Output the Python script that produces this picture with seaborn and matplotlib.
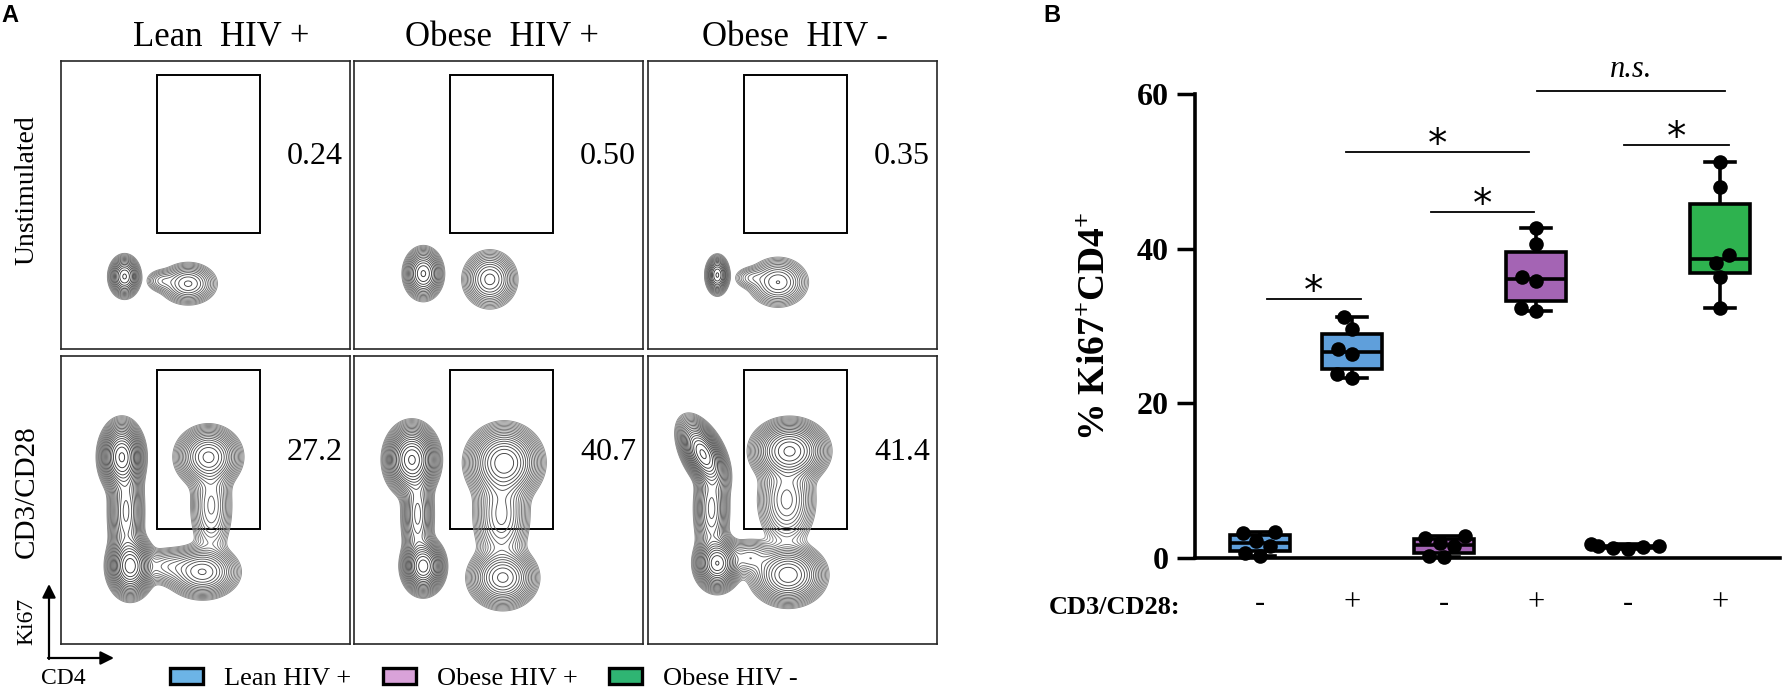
import numpy as np
import pandas as pd
import matplotlib
matplotlib.use("Agg")
import matplotlib.pyplot as plt
from matplotlib.patches import Rectangle, Patch
import seaborn as sns
import warnings
warnings.filterwarnings("ignore")

W, H = 1785, 690

# ---------------- Panel A data ----------------
col_titles = ["Lean  HIV +", "Obese  HIV +", "Obese  HIV -"]
row_labels = ["Unstimulated", "CD3/CD28"]
gate_pct_unstim = ["0.24", "0.50", "0.35"]
gate_pct_stim = ["27.2", "40.7", "41.4"]
gate_x = [0.333, 0.690]
gate_y = [0.400, 0.950]

# cell populations:
# (centre x, centre y, spread x, spread y, relative density, tilt)
pops_lean_unstim = [(0.22, 0.25, 0.020, 0.027, 1.00, 0.0),
                    (0.44, 0.225, 0.038, 0.028, 0.42, 0.0),
                    (0.35, 0.235, 0.025, 0.018, 0.10, 0.0)]
pops_obpos_unstim = [(0.24, 0.26, 0.025, 0.033, 1.00, 0.0),
                     (0.47, 0.24, 0.035, 0.037, 0.60, 0.0)]
pops_obneg_unstim = [(0.24, 0.255, 0.015, 0.025, 1.00, 0.0),
                     (0.45, 0.23, 0.040, 0.033, 0.40, 0.0),
                     (0.36, 0.245, 0.028, 0.018, 0.09, 0.0)]

pops_lean_stim = [(0.21, 0.65, 0.030, 0.048, 1.00, 0.0),
                  (0.24, 0.27, 0.031, 0.043, 0.90, 0.0),
                  (0.225, 0.46, 0.026, 0.090, 0.30, 0.0),
                  (0.51, 0.65, 0.046, 0.043, 0.45, 0.0),
                  (0.52, 0.48, 0.033, 0.080, 0.13, 0.0),
                  (0.49, 0.25, 0.052, 0.038, 0.35, 0.0),
                  (0.37, 0.27, 0.050, 0.030, 0.10, 0.0)]
pops_obpos_stim = [(0.20, 0.64, 0.036, 0.048, 0.90, 0.0),
                   (0.24, 0.27, 0.029, 0.038, 0.80, 0.0),
                   (0.22, 0.45, 0.024, 0.080, 0.22, 0.0),
                   (0.52, 0.63, 0.052, 0.052, 0.55, 0.0),
                   (0.51, 0.45, 0.042, 0.080, 0.18, 0.0),
                   (0.515, 0.23, 0.048, 0.043, 0.40, 0.0)]
pops_obneg_stim = [(0.19, 0.66, 0.033, 0.048, 0.90, -0.5),
                   (0.24, 0.28, 0.031, 0.038, 0.70, 0.0),
                   (0.22, 0.47, 0.026, 0.080, 0.22, 0.0),
                   (0.49, 0.67, 0.052, 0.043, 0.60, 0.0),
                   (0.48, 0.50, 0.043, 0.070, 0.18, 0.0),
                   (0.485, 0.24, 0.052, 0.043, 0.45, 0.0),
                   (0.35, 0.30, 0.040, 0.030, 0.10, 0.0)]

panel_pops = [[pops_lean_unstim, pops_obpos_unstim, pops_obneg_unstim],
              [pops_lean_stim, pops_obpos_stim, pops_obneg_stim]]
panel_pcts = [gate_pct_unstim, gate_pct_stim]

legend_labels = ["Lean HIV +", "Obese HIV +", "Obese HIV -"]
legend_colors = ["#6cb4e6", "#d9a2d9", "#2fb573"]

# ---------------- Panel B data ----------------
stim_labels = ["-", "+", "-", "+", "-", "+"]
categories = ["Lean HIV + unstim", "Lean HIV + stim",
              "Obese HIV + unstim", "Obese HIV + stim",
              "Obese HIV - unstim", "Obese HIV - stim"]
lean_unstim = [0.2, 0.6, 1.6, 2.2, 3.2, 3.4]
lean_stim = [23.3, 23.8, 26.4, 27.0, 29.6, 31.2]
obpos_unstim = [0.1, 0.3, 1.5, 1.9, 2.6, 2.8]
obpos_stim = [32.0, 32.3, 35.8, 36.4, 40.6, 42.7]
obneg_unstim = [1.2, 1.3, 1.4, 1.5, 1.6, 1.8]
obneg_stim = [32.3, 36.4, 38.2, 39.2, 48.0, 51.2]
box_colors = ["#5f9fdb", "#5f9fdb", "#a464b4", "#a464b4", "#2eb24f", "#2eb24f"]

# significance bars
sig_x0 = [0.07, 0.93, 1.86, 3.01, 3.96]
sig_x1 = [1.10, 2.92, 2.98, 5.05, 5.10]
sig_y = [33.5, 52.5, 44.7, 60.4, 53.4]
sig_text = ["*", "*", "*", "n.s.", "*"]

# ---------------- style ----------------
plt.rcParams["font.family"] = ["Liberation Serif", "DejaVu Sans"]
plt.rcParams["mathtext.fontset"] = "custom"
plt.rcParams["mathtext.rm"] = "Liberation Serif"
plt.rcParams["mathtext.bf"] = "Liberation Serif:bold"
plt.rcParams["mathtext.it"] = "Liberation Serif:italic"

fig = plt.figure(figsize=(W / 100, H / 100), dpi=100)


def rect(x0, y0, x1, y1):
    return [x0 / W, 1 - y1 / H, (x1 - x0) / W, (y1 - y0) / H]


ov = fig.add_axes([0, 0, 1, 1], zorder=-1)
ov.set_xlim(0, W)
ov.set_ylim(H, 0)
ov.axis("off")


def mixture(X, Y, pops):
    Z = np.zeros_like(X)
    for cx, cy, sx, sy, w, rho in pops:
        dx = (X - cx) / sx
        dy = (Y - cy) / sy
        q = (dx * dx - 2 * rho * dx * dy + dy * dy) / (1 - rho ** 2)
        Z += w * np.exp(-0.5 * q)
    return Z


gx = np.linspace(0, 1, 400)
GX, GY = np.meshgrid(gx, gx)

col_left = [61, 354, 648]
col_w = 289
rows = [(60.5, 348.5), (356, 644)]

for r in range(2):
    for c in range(3):
        ax = fig.add_axes(rect(col_left[c], rows[r][0], col_left[c] + col_w, rows[r][1]))
        Z = mixture(GX, GY, panel_pops[r][c])
        zmax = Z.max()
        nlev = 16 if r == 0 else 22
        levels = zmax * np.geomspace(0.012, 0.95, nlev)
        greys = [str(v) for v in np.linspace(0.55, 0.2, nlev)]
        ax.contour(GX, GY, Z, levels=levels, colors=greys, linewidths=0.65)
        ax.add_patch(Rectangle((gate_x[0], gate_y[0]), gate_x[1] - gate_x[0],
                               gate_y[1] - gate_y[0], fill=False, ec="black", lw=1.4))
        ax.text(0.976, 0.665, panel_pcts[r][c], ha="right", va="center",
                fontsize=23, transform=ax.transAxes)
        ax.set_xlim(0, 1)
        ax.set_ylim(0, 1)
        ax.set_xticks([])
        ax.set_yticks([])
        for s in ax.spines.values():
            s.set_linewidth(1.2)
            s.set_color("0.15")

title_x = [221, 502, 795]
for t, x in zip(col_titles, title_x):
    ov.text(x, 38, t, ha="center", va="center", fontsize=25)
ov.text(27, 190, row_labels[0], rotation=90, ha="center", va="center", fontsize=20)
ov.text(27, 492, row_labels[1], rotation=90, ha="center", va="center", fontsize=21)

ov.annotate("", xy=(49, 584), xytext=(49, 659),
            arrowprops=dict(arrowstyle="-|>", lw=1.6, color="k", mutation_scale=20,
                            shrinkA=0, shrinkB=0))
ov.annotate("", xy=(114, 658), xytext=(48, 658),
            arrowprops=dict(arrowstyle="-|>", lw=1.6, color="k", mutation_scale=20,
                            shrinkA=0, shrinkB=0))
ov.text(27, 621, "Ki67", rotation=90, ha="center", va="center", fontsize=17)
ov.text(63, 678, "CD4", ha="center", va="center", fontsize=17)

ov.text(10, 16, "A", ha="center", va="center", fontsize=17, fontweight="bold",
        family="Liberation Sans")
ov.text(1052, 16, "B", ha="center", va="center", fontsize=17, fontweight="bold",
        family="Liberation Sans")

handles = [Patch(facecolor=col, edgecolor="black", linewidth=2.4) for col in legend_colors]
fig.legend(handles, legend_labels, loc="center", bbox_to_anchor=(484 / W, 1 - 679 / H),
           ncol=3, frameon=False, fontsize=19, handlelength=1.25, handleheight=0.55,
           handletextpad=0.8, columnspacing=1.2)

# ---------------- Panel B ----------------
df = pd.DataFrame({
    "cat": np.repeat(categories, 6),
    "val": np.concatenate([lean_unstim, lean_stim, obpos_unstim, obpos_stim,
                           obneg_unstim, obneg_stim]),
})

axB = fig.add_axes(rect(1195, 94, 1780, 558))
axB.set_ylim(0, 60)
sns.boxplot(data=df, x="cat", y="val", hue="cat", order=categories, hue_order=categories,
            palette=box_colors, width=0.65, whis=(0, 100), linewidth=2.6,
            linecolor="black", showfliers=False, saturation=1, legend=False, ax=axB)
n_box_colls = len(axB.collections)
sns.swarmplot(data=df, x="cat", y="val", order=categories, color="black", size=14,
              ax=axB, zorder=5)
for coll in axB.collections[n_box_colls:]:
    coll.set_sizes([10.5 ** 2])
for coll in axB.collections:
    coll.set_clip_on(False)

axB.set_xlim(-0.707, 5.65)
axB.set_ylim(0, 60)
axB.set_yticks([0, 20, 40, 60])
axB.set_yticklabels(["0", "20", "40", "60"], fontweight="bold")
axB.set_xticks(range(6))
axB.set_xticklabels(stim_labels)
axB.set_xlabel("")
axB.set_ylabel("")
axB.tick_params(axis="y", length=13, width=2.5, labelsize=23, pad=6)
axB.tick_params(axis="x", length=0, labelsize=22, pad=22)
for side in ["top", "right"]:
    axB.spines[side].set_visible(False)
for side in ["left", "bottom"]:
    axB.spines[side].set_linewidth(2.6)
axB.patch.set_alpha(0)

for x0, x1, yv, lab in zip(sig_x0, sig_x1, sig_y, sig_text):
    axB.plot([x0, x1], [yv, yv], color="black", lw=1.3, clip_on=False)
    xm = (x0 + x1) / 2
    if lab == "*":
        axB.annotate(lab, xy=(xm, yv), xytext=(0, -3), textcoords="offset points",
                     ha="center", va="baseline", fontsize=28, family="DejaVu Sans",
                     annotation_clip=False)
    else:
        axB.annotate(lab, xy=(xm, yv), xytext=(0, 5), textcoords="offset points",
                     ha="center", va="bottom", fontsize=22, style="italic",
                     annotation_clip=False)

ov.text(1095, 327, r"% Ki67$^{\mathbf{+}}$CD4$^{\mathbf{+}}$", rotation=90,
        ha="center", va="center", fontsize=27, fontweight="bold")
ov.text(1180, 608, "CD3/CD28:", ha="right", va="center", fontsize=19, fontweight="bold")

fig.savefig("out.png", dpi=100)
